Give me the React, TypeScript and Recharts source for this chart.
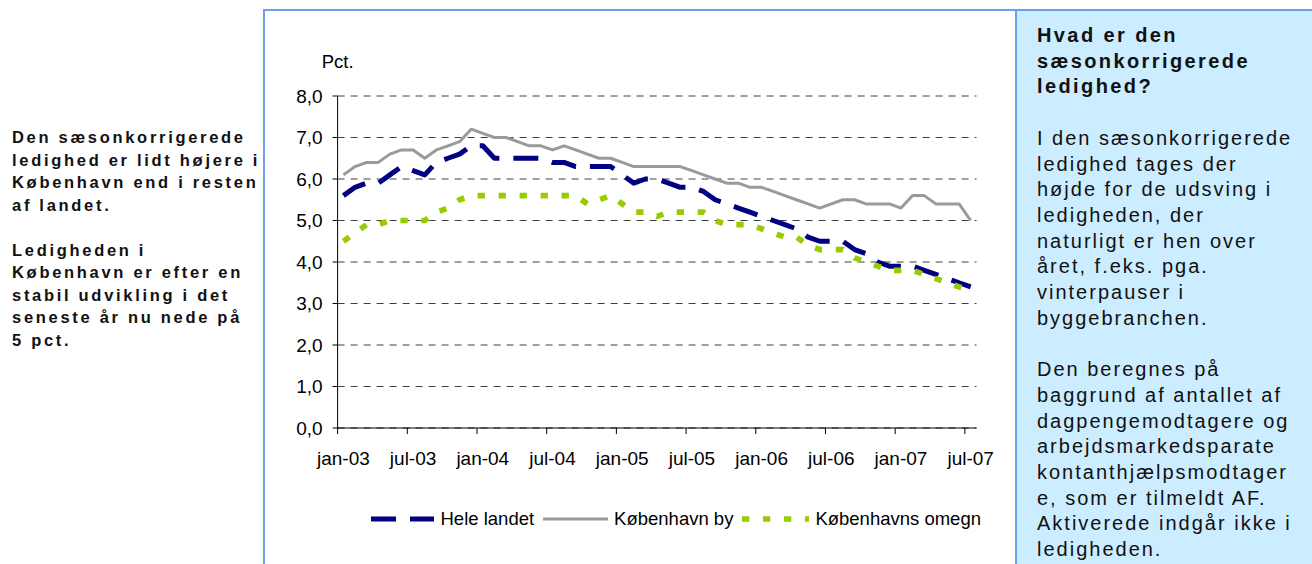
import React from 'react';
import { LineChart, Line, XAxis, YAxis, CartesianGrid, Legend } from 'recharts';

const FONT = '"Liberation Sans", Arial, Helvetica, sans-serif';

// Months (categories)
const MONTHS = [
  'jan-03', 'feb-03', 'mar-03', 'apr-03', 'maj-03', 'jun-03', 'jul-03', 'aug-03', 'sep-03', 'okt-03', 'nov-03', 'dec-03',
  'jan-04', 'feb-04', 'mar-04', 'apr-04', 'maj-04', 'jun-04', 'jul-04', 'aug-04', 'sep-04', 'okt-04', 'nov-04', 'dec-04',
  'jan-05', 'feb-05', 'mar-05', 'apr-05', 'maj-05', 'jun-05', 'jul-05', 'aug-05', 'sep-05', 'okt-05', 'nov-05', 'dec-05',
  'jan-06', 'feb-06', 'mar-06', 'apr-06', 'maj-06', 'jun-06', 'jul-06', 'aug-06', 'sep-06', 'okt-06', 'nov-06', 'dec-06',
  'jan-07', 'feb-07', 'mar-07', 'apr-07', 'maj-07', 'jun-07', 'jul-07',
];

// Series values (pct.)
const HELE_LANDET = [
  5.6, 5.8, 5.9, 5.9, 6.1, 6.3, 6.2, 6.1, 6.4, 6.5, 6.6, 6.8,
  6.8, 6.5, 6.5, 6.5, 6.5, 6.5, 6.4, 6.4, 6.3, 6.3, 6.3, 6.3,
  6.1, 5.9, 6.0, 6.0, 5.9, 5.8, 5.8, 5.7, 5.5, 5.4, 5.3, 5.2,
  5.1, 5.0, 4.9, 4.8, 4.6, 4.5, 4.5, 4.5, 4.3, 4.2, 4.0, 3.9,
  3.9, 3.9, 3.8, 3.7, 3.6, 3.5, 3.4,
];
const KOEBENHAVN_BY = [
  6.1, 6.3, 6.4, 6.4, 6.6, 6.7, 6.7, 6.5, 6.7, 6.8, 6.9, 7.2,
  7.1, 7.0, 7.0, 6.9, 6.8, 6.8, 6.7, 6.8, 6.7, 6.6, 6.5, 6.5,
  6.4, 6.3, 6.3, 6.3, 6.3, 6.3, 6.2, 6.1, 6.0, 5.9, 5.9, 5.8,
  5.8, 5.7, 5.6, 5.5, 5.4, 5.3, 5.4, 5.5, 5.5, 5.4, 5.4, 5.4,
  5.3, 5.6, 5.6, 5.4, 5.4, 5.4, 5.0,
];
const KOEBENHAVNS_OMEGN = [
  4.5, 4.7, 4.9, 4.9, 5.0, 5.0, 5.0, 5.0, 5.2, 5.3, 5.5, 5.6,
  5.6, 5.6, 5.6, 5.6, 5.6, 5.6, 5.6, 5.6, 5.6, 5.4, 5.5, 5.6,
  5.4, 5.2, 5.2, 5.1, 5.2, 5.2, 5.2, 5.2, 5.0, 4.9, 4.9, 4.9,
  4.8, 4.7, 4.6, 4.6, 4.4, 4.3, 4.3, 4.3, 4.1, 4.0, 3.9, 3.8,
  3.8, 3.8, 3.7, 3.6, 3.5, 3.4, 3.3,
];

// Tick labels
const X_TICK_LABELS = ['jan-03', 'jul-03', 'jan-04', 'jul-04', 'jan-05', 'jul-05', 'jan-06', 'jul-06', 'jan-07', 'jul-07'];
const Y_TICKS = [0, 1, 2, 3, 4, 5, 6, 7, 8];

const SERIES = [
  { key: 'hele', name: 'Hele landet', color: '#000080', width: 5, dash: '25 14', icon: 63 },
  { key: 'by', name: 'København by', color: '#9A9A9A', width: 3, dash: undefined as string | undefined, icon: 65 },
  { key: 'omegn', name: 'Københavns omegn', color: '#99CC00', width: 5.7, dash: '7.3 13.7', icon: 67 },
];

const LEFT_TEXT = [
  ['Den sæsonkorrigerede', 'ledighed er lidt højere i', 'København end i resten', 'af landet.'],
  ['Ledigheden i', 'København er efter en', 'stabil udvikling i det', 'seneste år nu nede på', '5 pct.'],
];
const PANEL_TITLE = ['Hvad er den', 'sæsonkorrigerede', 'ledighed?'];
const PANEL_TEXT = [
  ['I den sæsonkorrigerede', 'ledighed tages der', 'højde for de udsving i', 'ledigheden, der', 'naturligt er hen over', 'året, f.eks. pga.', 'vinterpauser i', 'byggebranchen.'],
  ['Den beregnes på', 'baggrund af antallet af', 'dagpengemodtagere og', 'arbejdsmarkedsparate', 'kontanthjælpsmodtager', 'e, som er tilmeldt AF.', 'Aktiverede indgår ikke i', 'ledigheden.'],
];

const data = MONTHS.map((m, i) => ({
  m: i,
  label: m,
  hele: HELE_LANDET[i],
  by: KOEBENHAVN_BY[i],
  omegn: KOEBENHAVNS_OMEGN[i],
}));

// layout
const CHART_W = 752;
const CHART_H = 554;
const Y_AXIS_W = 73.6;
const MARGIN = { top: 86, right: 39.5, bottom: 96, left: 0 };
const PLOT_W = CHART_W - Y_AXIS_W - MARGIN.right - MARGIN.left;
const HALF = PLOT_W / MONTHS.length / 2;

const X_TICKS = X_TICK_LABELS.map((l) => MONTHS.indexOf(l) - 0.5);

const XTick = (props: any) => {
  const { x, y, payload } = props;
  const idx = Math.round(payload.value + 0.5);
  return (
    <text x={x + HALF} y={y} dy="0.71em" textAnchor="middle" fontSize={19} fill="#000" fontFamily={FONT}>
      {MONTHS[idx]}
    </text>
  );
};

const PctLabel = (props: any) => {
  const vb = props.viewBox || {};
  return (
    <text x={vb.x + vb.width} y={vb.y - 28} textAnchor="middle" fontSize={18.5} fill="#000" fontFamily={FONT}>
      Pct.
    </text>
  );
};

const renderLegend = () => (
  <div style={{ display: 'flex', alignItems: 'center', fontFamily: FONT, fontSize: 18.5, color: '#000', whiteSpace: 'nowrap' }}>
    {SERIES.map((s, i) => (
      <div key={s.key} style={{ display: 'flex', alignItems: 'center', marginRight: 9 }}>
        <svg width={s.icon} height={12} style={{ display: 'block' }}>
          <line x1={0} y1={6} x2={s.icon} y2={6} stroke={s.color} strokeWidth={s.width} strokeDasharray={s.dash} />
        </svg>
        <span style={{ marginLeft: i === 0 ? 7 : 6 }}>{s.name}</span>
      </div>
    ))}
  </div>
);

export default function App() {
  return (
    <div style={{ position: 'absolute', left: 0, top: 0, width: 1312, height: 564, background: '#fff', overflow: 'hidden', fontFamily: FONT }}>
      {/* left commentary */}
      <div style={{ position: 'absolute', left: 12, top: 126, fontSize: 16.5, fontWeight: 'bold', letterSpacing: 2.7, lineHeight: '22.5px', color: '#111', whiteSpace: 'nowrap' }}>
        {LEFT_TEXT.map((p, pi) => (
          <div key={pi} style={{ marginBottom: pi === 0 ? 22.5 : 0 }}>
            {p.map((l) => (
              <div key={l}>{l}</div>
            ))}
          </div>
        ))}
      </div>

      {/* chart frame */}
      <div style={{ position: 'absolute', left: 263, top: 9, width: 753, height: 560, borderLeft: '2px solid #6F9CEB', borderTop: '2px solid #6F9CEB', boxSizing: 'border-box' }} />

      <div style={{ position: 'absolute', left: 264, top: 10 }}>
        <LineChart width={CHART_W} height={CHART_H} data={data} margin={MARGIN}>
          <CartesianGrid vertical={false} stroke="#404040" strokeDasharray="7 6" />
          <XAxis
            dataKey="m"
            type="number"
            domain={[-0.5, MONTHS.length - 0.5]}
            ticks={X_TICKS}
            interval={0}
            height={40}
            axisLine={{ stroke: '#000' }}
            tickLine={{ stroke: '#000' }}
            tickSize={6}
            tickMargin={18}
            tick={<XTick />}
          />
          <YAxis
            type="number"
            domain={[0, 8]}
            ticks={Y_TICKS}
            interval={0}
            width={Y_AXIS_W}
            axisLine={{ stroke: '#000' }}
            tickLine={{ stroke: '#000' }}
            tickSize={5}
            tickMargin={10}
            tick={{ fontSize: 19, fill: '#000', fontFamily: FONT }}
            tickFormatter={(v: number) => v.toFixed(1).replace('.', ',')}
            label={{ content: <PctLabel /> }}
          />
          <Legend
            verticalAlign="middle"
            align="center"
            layout="horizontal"
            content={renderLegend}
            wrapperStyle={{ top: 498, left: 106.5, width: 640, height: 30 }}
          />
          {SERIES.map((s) => (
            <Line
              key={s.key}
              dataKey={s.key}
              name={s.name}
              type="linear"
              stroke={s.color}
              strokeWidth={s.width}
              strokeDasharray={s.dash}
              strokeLinejoin="round"
              dot={false}
              activeDot={false}
              isAnimationActive={false}
            />
          ))}
        </LineChart>
      </div>

      {/* right info panel */}
      <div style={{ position: 'absolute', left: 1015, top: 9, width: 297, height: 560, background: '#CCECFF', borderLeft: '2px solid #6F9CEB', borderTop: '2px solid #6F9CEB', boxSizing: 'border-box', paddingLeft: 20, paddingTop: 12, fontSize: 20, lineHeight: '25.7px', color: '#111', whiteSpace: 'nowrap' }}>
        <div style={{ fontWeight: 'bold', letterSpacing: 2.4 }}>
          {PANEL_TITLE.map((l) => (
            <div key={l}>{l}</div>
          ))}
        </div>
        <div style={{ height: 25.7 }} />
        {PANEL_TEXT.map((p, pi) => (
          <div key={pi} style={{ letterSpacing: 2, marginBottom: pi === 0 ? 25.7 : 0 }}>
            {p.map((l) => (
              <div key={l}>{l}</div>
            ))}
          </div>
        ))}
      </div>
    </div>
  );
}
